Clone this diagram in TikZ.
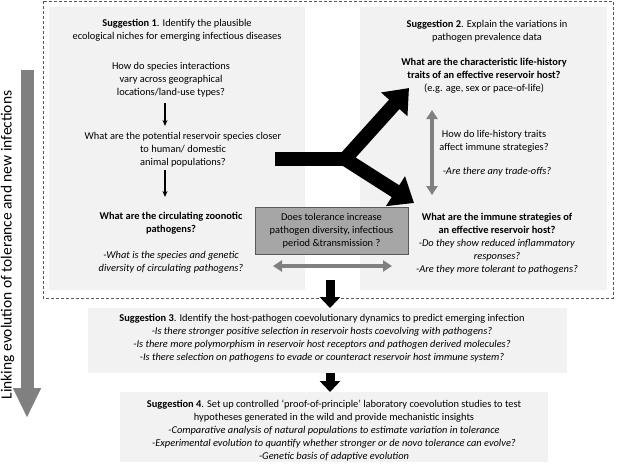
\documentclass[tikz,border=0pt]{standalone}
\usepackage{fontspec}
\setmainfont{Carlito}
\usetikzlibrary{arrows.meta}
\definecolor{panel}{HTML}{F2F2F2}
\definecolor{midgray}{HTML}{808080}
\definecolor{boxgray}{HTML}{A6A6A6}
\definecolor{dashgray}{HTML}{595959}
\tikzset{
  txt/.style={align=center,font=\fontsize{10.4}{13}\selectfont,inner sep=0pt},
  panelbox/.style={fill=panel,draw=none},
  blackthin/.style={draw=black,line width=1.1pt,-{Stealth[length=6pt,width=5pt]}},
  grayarrow/.style={draw=midgray,line width=3.5pt,{Triangle[length=9pt,width=11pt]}-{Triangle[length=9pt,width=11pt]}},
  bigblack/.style={draw=black,line width=14pt},
  downarrow/.style={draw=black,line width=9pt,-{Triangle[length=11pt,width=20pt]}},
}
\begin{document}
\begin{tikzpicture}[x=1pt,y=-1pt]
\useasboundingbox (0,0) rectangle (617,464);
% outer dashed box
\draw[dashgray,line width=0.9pt,dash pattern=on 3pt off 2pt] (43,1) rectangle (613,298);
% panels
\fill[panelbox] (49,7) rectangle (305,290);
\fill[panelbox] (360,7) rectangle (607,290);
\fill[panelbox] (88,308) rectangle (567,373);
\fill[panelbox] (120,392) rectangle (548,462);

% left big arrow
\coordinate (la1) at (27,70);
\coordinate (la2) at (27,418);
\draw[midgray,line width=13pt,-{Triangle[length=30pt,width=26pt]}] (la1) -- (la2);
\node[rotate=90,font=\fontsize{15.5}{17}\selectfont,inner sep=0pt] (side) at (7.5,245) {Linking evolution of tolerance and new infections};

% left panel texts
\node[txt] (s1) at (177,30.5) {\textbf{Suggestion 1}. Identify the plausible\\ecological niches for emerging infectious diseases};
\node[txt] (q1) at (171,79.5) {How do species interactions\\vary across geographical\\locations/land-use types?};
\node[txt] (q2) at (183,150) {What are the potential reservoir species closer\\to human/ domestic\\animal populations?};
\node[txt] (q3) at (171,223.5) {\textbf{What are the circulating zoonotic}\\\textbf{pathogens?}};
\node[txt] (q3b) at (171,262.5) {\textit{-What is the species and genetic}\\\textit{diversity of circulating pathogens?}};
\coordinate (a1s) at (165,103);
\coordinate (a1e) at (165,126);
\coordinate (a2s) at (165,170);
\coordinate (a2e) at (165,197);
\draw[blackthin] (a1s) -- (a1e);
\draw[blackthin] (a2s) -- (a2e);

% right panel texts
\node[txt] (s2) at (487,31.5) {\textbf{Suggestion 2}. Explain the variations in\\pathogen prevalence data};
\node[txt] (r1) at (484,75.5) {\textbf{What are the characteristic life-history}\\\textbf{traits of an effective reservoir host?}\\(e.g. age, sex or pace-of-life)};
\node[txt] (r2) at (494,141) {How do life-history traits\\affect immune strategies?};
\node[txt] (r3) at (497,172) {\textit{-Are there any trade-offs?}};
\node[txt] (r4) at (497,244) {\textbf{What are the immune strategies of}\\\textbf{an effective reservoir host?}\\\textit{-Do they show reduced inflammatory}\\\textit{responses?}\\\textit{-Are they more tolerant to pathogens?}};
\coordinate (v1) at (432,110);
\coordinate (v2) at (432,195);
\draw[grayarrow] (v1) -- (v2);

% centre box
\node[txt,fill=boxgray,draw=dashgray,line width=1pt,minimum width=153pt,minimum height=47pt] (ctr) at (331.5,230.5) {Does tolerance increase\\pathogen diversity, infectious\\period \&transmission ?};
\coordinate (h1) at (273,266);
\coordinate (h2) at (392,266);
\draw[grayarrow] (h1) -- (h2);

% Y arrow
\coordinate (ys) at (275,159);
\coordinate (yj) at (345,159);
\coordinate (yu) at (409,88);
\coordinate (yd) at (414,203);
\draw[bigblack] (ys) -- ([xshift=4pt]yj);
\draw[bigblack,line join=miter,{Triangle[length=22pt,width=34pt]}-{Triangle[length=22pt,width=34pt]}] (yu) -- (yj) -- (yd);

% lower suggestions
\node[txt] (s3) at (322,338) {\textbf{Suggestion 3}. Identify the host-pathogen coevolutionary dynamics to predict emerging infection\\\textit{-Is there stronger positive selection in reservoir hosts coevolving with pathogens?}\\\textit{-Is there more polymorphism in reservoir host receptors and pathogen derived molecules?}\\\textit{-Is there selection on pathogens to evade or counteract reservoir host immune system?}};
\node[txt] (s4) at (334,431) {\textbf{Suggestion 4}. Set up controlled ‘proof-of-principle’ laboratory coevolution studies to test\\hypotheses generated in the wild and provide mechanistic insights\\\textit{-Comparative analysis of natural populations to estimate variation in tolerance}\\\textit{-Experimental evolution to quantify whether stronger or de novo tolerance can evolve?}\\\textit{-Genetic basis of adaptive evolution}};
\coordinate (d1s) at (330,280);
\coordinate (d1e) at (330,308);
\coordinate (d2s) at (330,373);
\coordinate (d2e) at (330,392);
\draw[downarrow] (d1s) -- (d1e);
\draw[downarrow] (d2s) -- (d2e);
\end{tikzpicture}
\end{document}
